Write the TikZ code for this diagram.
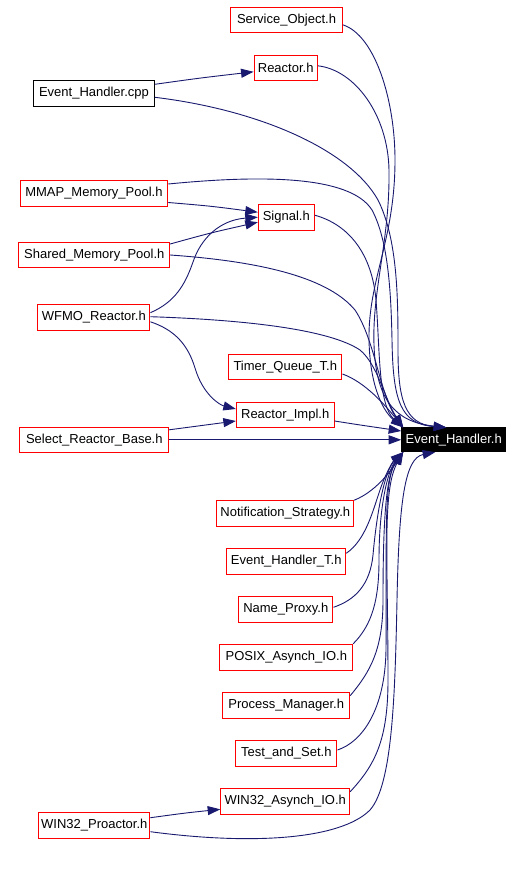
\documentclass[tikz,border=0pt]{standalone}
\usepackage{fontspec}
\setmainfont{Liberation Sans}
\usetikzlibrary{arrows.meta,calc}
\definecolor{edgeblue}{HTML}{191970}
\definecolor{boxred}{HTML}{FF0000}
\begin{document}
\begin{tikzpicture}[x=1pt,y=-1pt,
  file/.style={draw=boxred, line width=1pt, inner sep=0pt, font=\fontsize{13}{15}\selectfont, text=black},
  dep/.style={draw=edgeblue, line width=0.9pt, -{Triangle[length=12.5pt,width=9pt]}}]
\useasboundingbox[fill=white] (0,0) rectangle (531,870);

\node[file, minimum width=111.5pt, minimum height=25pt] (so) at (286.5,19.8) {Service\_Object.h};
\node[file, minimum width=63.3pt, minimum height=25pt] (re) at (285.7,67.8) {Reactor.h};
\node[file, draw=black, minimum width=120.6pt, minimum height=26pt] (cpp) at (94,93.3) {Event\_Handler.cpp};
\node[file, minimum width=147.7pt, minimum height=25.6pt] (mmap) at (93.9,193.5) {MMAP\_Memory\_Pool.h};
\node[file, minimum width=56pt, minimum height=25.7pt] (sig) at (286.3,217.2) {Signal.h};
\node[file, minimum width=150.7pt, minimum height=24.6pt] (shm) at (94.3,255) {Shared\_Memory\_Pool.h};
\node[file, minimum width=112.3pt, minimum height=26pt] (wfmo) at (93.8,317.3) {WFMO\_Reactor.h};
\node[file, minimum width=113.3pt, minimum height=24.6pt] (tq) at (285.3,367) {Timer\_Queue\_T.h};
\node[file, minimum width=97.7pt, minimum height=24.6pt] (ri) at (285.2,415) {Reactor\_Impl.h};
\node[file, minimum width=148.7pt, minimum height=25pt] (srb) at (94.3,439.8) {Select\_Reactor\_Base.h};
\node[file, draw=black, fill=black, text=white, minimum width=104pt, minimum height=23.7pt] (eh) at (453.7,439.8) {Event\_Handler.h};
\node[file, minimum width=136.7pt, minimum height=25.6pt] (ns) at (285.3,513.5) {Notification\_Strategy.h};
\node[file, minimum width=119pt, minimum height=26pt] (eht) at (286.2,561.3) {Event\_Handler\_T.h};
\node[file, minimum width=94.3pt, minimum height=26pt] (np) at (285.8,609.3) {Name\_Proxy.h};
\node[file, minimum width=132.7pt, minimum height=26pt] (posix) at (286.3,657.3) {POSIX\_Asynch\_IO.h};
\node[file, minimum width=127pt, minimum height=26pt] (pm) at (286.2,705.3) {Process\_Manager.h};
\node[file, minimum width=101.3pt, minimum height=26pt] (tas) at (286.3,753.3) {Test\_and\_Set.h};
\node[file, minimum width=129pt, minimum height=26pt] (wio) at (285.2,801.3) {WIN32\_Asynch\_IO.h};
\node[file, minimum width=111.3pt, minimum height=26pt] (wpro) at (94.3,825.3) {WIN32\_Proactor.h};

\coordinate (T1) at ($(eh.north west)+(2,0)$);
\coordinate (T2) at ($(eh.north west)+(45,0)$);
\coordinate (T5) at ($(eh.south west)+(2,0)$);
\coordinate (T6) at ($(eh.south west)+(34,0)$);

% upper part
\draw[dep] ($(cpp.east)+(0,-9)$) .. controls (200,78) .. ($(re.west)+(0,4)$);
\draw[dep] ($(so.east)+(0,5)$) .. controls (375,35) and (395,100) .. (395,160) .. controls (395,240) and (368,280) .. (369,340) .. controls (370,390) and (385,413) .. (T1);
\draw[dep] ($(re.east)+(0,-2)$) .. controls (355,70) and (388,115) .. (389,170) .. controls (390,240) and (372,290) .. (374,345) .. controls (376,400) and (395,422) .. (T2);
\draw[dep] ($(cpp.east)+(0,4)$) .. controls (260,110) and (350,150) .. (378,200) .. controls (398,240) and (398,300) .. (398,350) .. controls (398,400) and (405,424) .. (T2);
\draw[dep] ($(mmap.east)+(0,-9.5)$) .. controls (260,175) and (350,175) .. (372,210) .. controls (388,240) and (391,290) .. (392,340) .. controls (393,400) and (400,424) .. (T2);
\draw[dep] ($(mmap.east)+(0,9)$) .. controls (210,206) .. ($(sig.west)+(0,-5)$);
\draw[dep] ($(shm.east)+(0,-11)$) .. controls (210,233) .. ($(sig.west)+(0,5)$);
\draw[dep] ($(wfmo.east)+(0,-4.6)$) .. controls (175,302) and (185,285) .. (193,262) .. controls (201,238) and (220,220) .. (sig.west);
\draw[dep] ($(sig.east)+(0,-2)$) .. controls (350,225) and (372,255) .. (376,300) .. controls (380,350) and (378,405) .. (T1);
\draw[dep] (shm.east) .. controls (270,262) and (330,280) .. (355,310) .. controls (375,340) and (380,395) .. (T1);
\draw[dep] ($(wfmo.east)+(0,-0.6)$) .. controls (250,320) and (330,330) .. (360,350) .. controls (378,365) and (385,400) .. (T1);
\draw[dep] ($(wfmo.east)+(0,4.5)$) .. controls (175,330) and (188,345) .. (195,368) .. controls (203,395) and (220,405) .. ($(ri.west)+(0,-6)$);
\draw[dep] ($(tq.east)+(0,7)$) .. controls (365,382) and (385,405) .. (T1);
\draw[dep] ($(srb.east)+(0,-10)$) -- ($(ri.west)+(0,6)$);
\draw[dep] (srb.east) -- (eh.west);
\draw[dep] ($(ri.east)+(0,6)$) .. controls (360,425) .. ($(eh.west)+(0,-8.8)$);

% lower part
\draw[dep] (ns.north east) .. controls (375,492) and (390,472) .. (T5);
\draw[dep] ($(eht.east)+(0,-8)$) .. controls (366,540) and (373,510) .. (380,490) .. controls (386,472) and (394,460) .. (T5);
\draw[dep] ($(np.east)+(0,-2)$) .. controls (355,600) and (370,585) .. (373,555) .. controls (377,510) and (385,470) .. (T5);
\draw[dep] (posix.north east) .. controls (372,625) and (379,600) .. (379,560) .. controls (379,505) and (388,470) .. (T5);
\draw[dep] ($(pm.east)+(0,-9.6)$) .. controls (370,672) and (383,650) .. (383,600) .. controls (383,520) and (386,475) .. (T5);
\draw[dep] ($(tas.east)+(0,-3.3)$) .. controls (362,742) and (385,710) .. (386,650) .. controls (387,540) and (383,480) .. (T5);
\draw[dep] ($(wio.east)+(0,-9.6)$) .. controls (375,765) and (388,740) .. (388,680) .. controls (388,560) and (382,490) .. (T5);
\draw[dep] ($(wpro.east)+(0,-7.6)$) .. controls (185,813) .. ($(wio.west)+(0,8)$);
\draw[dep] ($(wpro.east)+(0,6.4)$) .. controls (250,845) and (340,840) .. (370,810) .. controls (392,785) and (395,700) .. (397,600) .. controls (399,500) and (405,458) .. (T6);
\end{tikzpicture}
\end{document}
